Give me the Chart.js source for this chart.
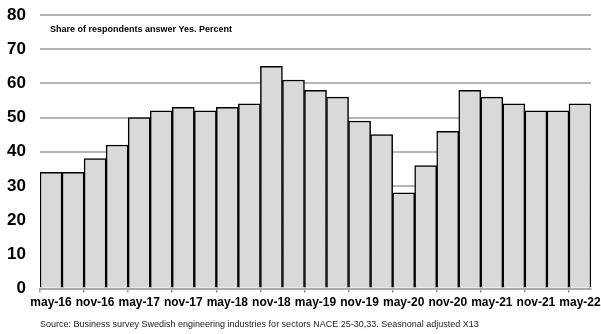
<!DOCTYPE html>
<html>
<head>
<meta charset="utf-8">
<script src="https://cdn.jsdelivr.net/npm/chart.js@4/dist/chart.umd.min.js"></script>
<style>
  html, body { margin: 0; padding: 0; background: #fff; }
  #wrap { width: 601px; height: 334px; position: relative; }
</style>
</head>
<body>
<div id="wrap"><canvas id="chart"></canvas></div>
<script>
// quarterly survey, labels shown every second bar
var quarters = ['may-16', 'aug-16', 'nov-16', 'feb-17', 'may-17', 'aug-17', 'nov-17', 'feb-18',
    'may-18', 'aug-18', 'nov-18', 'feb-19', 'may-19', 'aug-19', 'nov-19', 'feb-20',
    'may-20', 'aug-20', 'nov-20', 'feb-21', 'may-21', 'aug-21', 'nov-21', 'feb-22', 'may-22'];
var shareYes = [34, 34, 38, 42, 50, 52, 53, 52, 53, 54, 65, 61, 58, 56, 49, 45,
    28, 36, 46, 58, 56, 54, 52, 52, 54];
var yTicks = [0, 10, 20, 30, 40, 50, 60, 70, 80];

var innerTitle = 'Share of respondents answer Yes. Percent';
var sourceNote = 'Source: Business survey Swedish engineering industries for sectors NACE 25-30,33. Seasnonal adjusted X13';

var FONT = '"Liberation Sans", Arial, sans-serif';

// texts inside the plot and below it
var notesPlugin = {
    id: 'notes',
    afterDraw: function(chart) {
        var ctx = chart.ctx;
        var area = chart.chartArea;
        ctx.save();
        ctx.fillStyle = '#000';
        ctx.textBaseline = 'middle';
        ctx.textAlign = 'left';
        ctx.font = 'bold 9px ' + FONT;
        ctx.fillText(innerTitle, area.left + 10, area.top + 15);
        ctx.font = '9px ' + FONT;
        ctx.fillStyle = '#222';
        ctx.fillText(sourceNote, area.left, 325);
        ctx.restore();
    }
};

var ctx = document.getElementById('chart').getContext('2d');
var chart = new Chart(ctx, {
    type: 'bar',
    data: {
        labels: quarters,
        datasets: [{
            data: shareYes,
            backgroundColor: '#d9d9d9',
            borderColor: '#000',
            borderWidth: 1.5,
            categoryPercentage: 1,
            barPercentage: 1
        }]
    },
    options: {
        responsive: true,
        maintainAspectRatio: false,
        animation: false,
        layout: {
            padding: { left: 0, right: 10, top: 15, bottom: 21 }
        },
        plugins: {
            legend: { display: false },
            tooltip: { enabled: false }
        },
        scales: {
            x: {
                offset: true,
                afterFit: function(axis) {
                    axis.paddingLeft = 0;
                    axis.paddingRight = 0;
                },
                grid: {
                    offset: true,
                    drawOnChartArea: false,
                    tickLength: 4,
                    lineWidth: 1.5,
                    color: function(c) {
                        return c.index % 2 === 0 ? '#999' : 'rgba(0,0,0,0)';
                    }
                },
                border: { display: true, color: '#aaa', width: 2 },
                ticks: {
                    autoSkip: false,
                    maxRotation: 0,
                    padding: 3,
                    color: '#000',
                    font: { family: FONT, size: 12, weight: 'bold' },
                    callback: function(val, i) {
                        return i % 2 === 0 ? this.getLabelForValue(val) : '';
                    }
                }
            },
            y: {
                min: 0,
                max: 80,
                afterBuildTicks: function(axis) {
                    axis.ticks = yTicks.map(function(v) { return { value: v }; });
                },
                afterFit: function(axis) {
                    axis.width = 40;
                    axis.paddingTop = 0;
                    axis.paddingBottom = 0;
                },
                grid: {
                    color: '#b5b5b5',
                    lineWidth: 2,
                    drawTicks: false
                },
                border: { display: false },
                ticks: {
                    padding: 14,
                    color: '#000',
                    font: { family: FONT, size: 17, weight: 'bold' }
                }
            }
        }
    },
    plugins: [notesPlugin]
});
</script>
</body>
</html>
